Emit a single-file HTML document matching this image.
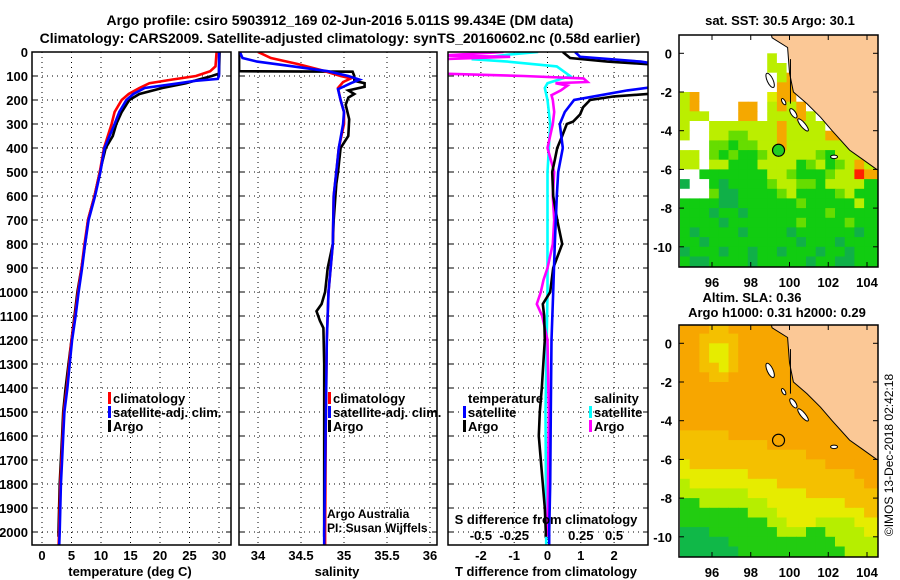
<!DOCTYPE html>
<html><head><meta charset="utf-8">
<style>
html,body{margin:0;padding:0;background:#fff;}
svg{display:block;font-family:"Liberation Sans",sans-serif;}
.b{font-weight:bold;font-size:13px;}
</style></head>
<body>
<svg id="fig" width="900" height="580" viewBox="0 0 900 580" xmlns="http://www.w3.org/2000/svg">
<defs>
<clipPath id="c1"><rect x="32" y="52" width="199" height="493"/></clipPath>
<clipPath id="c2"><rect x="239" y="52" width="198" height="493"/></clipPath>
<clipPath id="c3"><rect x="448" y="52" width="200" height="493"/></clipPath>
<clipPath id="m1"><rect x="679" y="35" width="199" height="232"/></clipPath>
<clipPath id="m2"><rect x="679" y="325" width="199" height="232"/></clipPath>
</defs>
<text x="340" y="25" text-anchor="middle" class="b" style="font-size:14px">Argo profile: csiro 5903912_169 02-Jun-2016 5.011S 99.434E (DM data)</text>
<text x="340" y="43" text-anchor="middle" class="b" style="font-size:14px">Climatology: CARS2009. Satellite-adjusted climatology: synTS_20160602.nc (0.58d earlier)</text>
<text x="780" y="25" text-anchor="middle" class="b">sat. SST: 30.5 Argo: 30.1</text>
<text x="752" y="302" text-anchor="middle" class="b">Altim. SLA: 0.36</text>
<text x="777" y="317" text-anchor="middle" class="b">Argo h1000: 0.31 h2000: 0.29</text>
<text transform="translate(893,455) rotate(-90)" text-anchor="middle" style="font-size:12px">©IMOS 13-Dec-2018 02:42:18</text>
<g id="g"></g>
</svg>
<script>
// ---------- profile data ----------
const tClimDepth=[0,60,80,100,115,130,150,175,200,250,300,400,500,600,700,800,900,1000,1100,1200,1300,1400,1500,1600,1700,1800,1900,2000,2070];
const tClimVal=[29.6,29.4,28.5,26.1,22,18.2,16.5,14.7,13.5,12.3,11.8,10.5,9.8,8.9,7.8,7.2,6.7,6.1,5.6,5.0,4.6,4.2,3.7,3.5,3.3,3.1,3.0,2.9,2.8];
const tSatDepth=[0,100,112,120,130,150,175,200,250,300,400,500,600,700,800,900,1000,1100,1200,1300,1400,1500,1600,1700,1800,1900,2000,2070];
const tSatVal=[30.0,30.0,29.8,26,23.3,17.4,15.5,14.3,13.1,12.3,10.6,9.9,9.0,7.9,7.3,6.8,6.2,5.7,5.1,4.7,4.3,3.8,3.6,3.4,3.2,3.1,3.0,2.9];
const tArgoDepth=[0,90,100,115,130,150,175,200,250,300,350,400,500,600,700,800,900,1000,1100,1200,1300,1400,1500,1600,1700,1800,1900,2000,2020];
const tArgoVal=[30.1,30.0,28.8,26.5,24.4,20.4,16.5,14.8,13.5,12.6,12.0,10.8,9.8,8.9,7.8,7.3,6.7,6.0,5.5,5.0,4.5,4.0,3.6,3.4,3.2,3.0,2.9,2.8,2.8];
const sClimDepth=[0,25,50,75,100,110,125,150,200,250,300,400,500,600,800,1000,1200,1500,2000,2070];
const sClimVal=[34.0,34.15,34.46,34.73,34.96,35.08,34.99,34.93,34.96,35.0,35.0,34.94,34.91,34.88,34.87,34.82,34.8,34.79,34.78,34.78];
const sSatDepth=[0,25,40,60,80,100,115,130,155,200,250,300,400,500,600,800,1000,1200,1500,2000,2070];
const sSatVal=[33.79,33.82,33.99,34.41,34.81,35.05,35.18,35.08,34.93,34.96,35.0,34.99,34.94,34.91,34.88,34.87,34.82,34.8,34.79,34.77,34.77];
const sArgoDepth=[0,80,82,100,120,130,145,160,175,190,220,280,350,400,500,550,700,800,900,1000,1050,1080,1120,1150,1300,1500,2000,2020];
const sArgoVal=[33.78,33.78,35.1,35.12,35.12,35.24,35.24,35.05,35.12,35.05,35.02,35.06,35.05,34.96,34.93,34.91,34.88,34.87,34.81,34.78,34.74,34.68,34.72,34.76,34.77,34.77,34.77,34.77];
const dTSatDepth=[0,20,40,55,140,160,180,200,250,300,400,500,600,800,1000,1200,1500,1800,2000,2070];
const dTSatVal=[0.83,0.98,2.8,3.5,3.5,2.4,1.6,0.8,0.52,0.37,0.46,0.32,0.28,0.22,0.17,0.12,0.1,0.08,0.05,0.05];
const dTArgoDepth=[0,25,40,55,170,185,200,230,260,290,300,350,400,450,500,600,700,800,900,1000,1050,1100,1200,1400,1500,1600,1700,1800,1900,2000,2020];
const dTArgoVal=[0.46,0.68,1.8,3.5,3.5,2.0,1.28,1.07,0.98,0.77,0.58,0.44,0.29,0.22,0.14,0.17,0.29,0.44,0.17,0.08,-0.14,-0.1,-0.08,-0.17,-0.23,-0.26,-0.2,-0.14,-0.08,-0.05,-0.05];
const dSSatDepth=[0,10,30,40,60,100,130,150,200,300,500,700,1000,1500,2000,2070];
const dSSatVal=[-0.07,-0.28,-0.57,-0.3,0.07,0.17,0,-0.02,0.0,0.02,0,0,0,-0.015,-0.01,-0.01];
const dSArgoDepth=[0,15,20,30,90,100,110,125,130,140,160,180,200,250,300,400,500,600,700,800,900,950,1000,1050,1100,1200,1500,2000,2020];
const dSArgoVal=[-0.33,-0.8,-0.28,-0.8,-0.8,-0.18,0.27,0.3,0.06,0.15,0.1,0.03,0.04,0.05,0.04,0.0,0.05,0.04,0.05,0.04,0,-0.03,-0.05,-0.08,-0.04,0,0.01,0.0,0.0];
const depthTicks=[0,100,200,300,400,500,600,700,800,900,1000,1100,1200,1300,1400,1500,1600,1700,1800,1900,2000];
const tTicks=[0,5,10,15,20,25,30];
const sTicks=[34,34.5,35,35.5,36];
const dTTicks=[-2,-1,0,1,2];
const dSTicks=[-0.5,-0.25,0,0.25,0.5];
// ---------- map data ----------
const mapLats=[0,-2,-4,-6,-8,-10];
const mapLons=[96,98,100,102,104];
const argoLon=99.434, argoLat=-5.011;
const sstGrid=[
"....................",
"....................",
".........y..........",
".........yy.........",
"..........yo........",
"..........oo........",
"yo.......Yoo........",
"yo....oo.yoyo.......",
"yyy...oo.yyyoy......",
"y..yyyyyyyoyyyy.....",
"y..yyllyyyoyyyyoo...",
"...llgllyyoyyyyyyyg.",
"yy.lglgglyyyyylgyyyy",
"yy.yygggyyyyglyglyoy",
"..gggggggyylggglyyro",
"G..gGgggglyyllgyyyyg",
"...lGGgggglygggglygg",
"ggggGGgggggglgggggyg",
"gggGggGgggggggglgggg",
"ggggGggggggglgggglgg",
"gGggggGggggGggggggGg",
"ggGgggggggggGgggGggg",
"GgggGggGggGgggGggGgg",
"gGGggggGgggggGggGGgg"];
const slaGrid=[
"oooaaooooooooooooooo",
"ooaaaaoooooooooooooo",
"ooayyaoooooooooooooo",
"ooayyaoooooooooooooo",
"ooaayaoooooooooooooo",
"oooaaooooooooooooooo",
"oooooooooooooooooooo",
"oooooooooooooooooooo",
"oooooooooooooooooooo",
"oooooooooooooooooooo",
"oooooooooooooooooooo",
"aaaaaooooooooooooooo",
"aaaaaaaaaooooooooooo",
"aaaaaaaaaaaaaooooooo",
"yaaaaaaaaaaaaaaooooo",
"yyyyyyyaaaaaaaaaaaoo",
"lyyyyyyyyyaaaaaaaaao",
"lllllllyyyyyyaaaaaaa",
"gglllllllyyyyyyyyaaa",
"ggggggglllyyyyyyyyya",
"gggggggggllyyyllllyy",
"GGGggggggglllgglllly",
"GGGGGggggggggggglllll",
"GGGGGGggggggggggglll"];
const coastLon=[99.0,99.1,99.9,100.0,100.2,100.9,101.6,102.2,103.1,103.8,104.5,104.8,104.8];
const coastLat=[1.2,0.8,0.3,-1.0,-2.0,-2.6,-3.3,-4.0,-5.0,-5.5,-6.0,-6.1,1.2];

const NS="http://www.w3.org/2000/svg";
const G=document.getElementById('g');
function mk(tag,attrs,parent){const e=document.createElementNS(NS,tag);for(const k in attrs)e.setAttribute(k,attrs[k]);(parent||G).appendChild(e);return e;}
function txt(x,y,s,anchor,cls,parent){const e=mk('text',{x:x,y:y,'text-anchor':anchor||'middle','class':cls||'b'},parent);e.textContent=s;return e;}

const Y0=52, PB=545;
const yD=d=>Y0+d*0.24;
const xT=t=>42+t*5.9;
const xS=s=>258+(s-34)*86;
const xDT=t=>547.5+t*33.3;
const xDS=s=>547.5+s*133.2;

function panelGrid(x0,x1,xs){
  depthTicks.forEach(d=>{
    const l=mk('line',{x1:x0,x2:x1,y1:yD(d),y2:yD(d),stroke:'#000','stroke-width':1,'stroke-dasharray':'1,4'});
    
    
    mk('line',{x1:x0,x2:x0+5,y1:yD(d),y2:yD(d),stroke:'#000'});
    mk('line',{x1:x1-5,x2:x1,y1:yD(d),y2:yD(d),stroke:'#000'});
  });
  xs.forEach(x=>{
    const l=mk('line',{x1:x,x2:x,y1:Y0,y2:PB,stroke:'#000','stroke-width':1,'stroke-dasharray':'1,4'});
    
    
  });
}
function series(depths,vals,xf,color,clip,name){
  const pts=depths.map((d,i)=>xf(vals[i]).toFixed(1)+','+yD(d).toFixed(1)).join(' ');
  const p=mk('polyline',{points:pts,fill:'none',stroke:color,'stroke-width':2.6,'clip-path':'url(#'+clip+')'});
  
  
}
function frame(x0,x1,name){
  const r=mk('rect',{x:x0,y:Y0,width:x1-x0,height:PB-Y0,fill:'none',stroke:'#000','stroke-width':1.5});
  
  
}
function legendItem(x,y,color,label){
  mk('rect',{x:x-5,y:y-11,width:3,height:12,fill:color});
  const t=txt(x,y,label,'start');
  
  
}

// Panel 1
panelGrid(32,231,tTicks.map(xT));
depthTicks.forEach(d=>{const t=txt(28,yD(d)+5,String(d),'end');});
tTicks.forEach(v=>{const t=txt(xT(v),560,String(v));});
series(tArgoDepth,tArgoVal,xT,'#000','c1','argo-temperature-line');
series(tClimDepth,tClimVal,xT,'#f00','c1','climatology-temperature-line');
series(tSatDepth,tSatVal,xT,'#00f','c1','satellite-temperature-line');
frame(32,231,'temperature-panel');
legendItem(113,403,'#f00','climatology');
legendItem(113,417,'#00f','satellite-adj. clim.');
legendItem(113,431,'#000','Argo');
const a1=txt(130,576,'temperature (deg C)');

// Panel 2
panelGrid(239,437,sTicks.map(xS));
sTicks.forEach(v=>{const t=txt(xS(v),560,String(v));});
series(sArgoDepth,sArgoVal,xS,'#000','c2','argo-salinity-line');
series(sClimDepth,sClimVal,xS,'#f00','c2','climatology-salinity-line');
series(sSatDepth,sSatVal,xS,'#00f','c2','satellite-salinity-line');
frame(239,437,'salinity-panel');
legendItem(333,403,'#f00','climatology');
legendItem(333,417,'#00f','satellite-adj. clim.');
legendItem(333,431,'#000','Argo');
const pi1=txt(327,518,'Argo Australia','start','');pi1.setAttribute('style','font-size:12px');
const pi2=txt(327,532,'PI: Susan Wijffels','start','');pi2.setAttribute('style','font-size:12px');
const a2=txt(337,576,'salinity');

// Panel 3
panelGrid(448,648,dTTicks.map(xDT));
dTTicks.forEach(v=>{const t=txt(xDT(v),560,String(v));});
dSTicks.forEach(v=>{const t=txt(xDS(v),540,String(v));});
series(dSSatDepth,dSSatVal,xDS,'#0ff','c3','satellite-salinity-diff-line');
series(dSArgoDepth,dSArgoVal,xDS,'#f0f','c3','argo-salinity-diff-line');
series(dTArgoDepth,dTArgoVal,xDT,'#000','c3','argo-temperature-diff-line');
series(dTSatDepth,dTSatVal,xDT,'#00f','c3','satellite-temperature-diff-line');
frame(448,648,'difference-panel');
const lt=txt(468,403,'temperature','start');
legendItem(468,417,'#00f','satellite');
legendItem(468,431,'#000','Argo');
const ls=txt(594,403,'salinity','start');
legendItem(594,417,'#0ff','satellite');
legendItem(594,431,'#f0f','Argo');
const sdt=txt(546,524,'S difference from climatology');
const a3=txt(546,576,'T difference from climatology');

// Maps
const sstCol={g:'#11cc11',G:'#10b048',l:'#66dd00',y:'#bbee00',Y:'#ddee00',o:'#f5a800',r:'#ff2000','.':'#ffffff'};
const slaCol={o:'#f7a600',a:'#f4c000',y:'#e6ec00',l:'#b6ee00',g:'#22cc11',G:'#10b848'};
function drawMap(top,bottom,lat0y,grid,cols,clip,name,filledMarker){
  const lx=l=>712+(l-96)*19.375;
  const ly=la=>lat0y-la*19.35;
  const gg=mk('g',{'clip-path':'url(#'+clip+')'});
  
  
  grid.forEach((row,j)=>{
    for(let i=0;i<21;i++){
      const ch=row[Math.min(i,row.length-1)];
      const la=1.0-0.5*j, lo=94.35+0.5*i;
      const c=mk('rect',{x:lx(lo).toFixed(1),y:ly(la).toFixed(1),width:10.2,height:10.2,fill:cols[ch]},gg);
      
      
    }
  });
  const land=mk('polygon',{points:coastLon.map((l,i)=>lx(l).toFixed(1)+','+ly(coastLat[i]).toFixed(1)).join(' '),fill:'#fbc896',stroke:'#000','stroke-width':1},gg);
  
  
  const isl=[[99.0,-1.4,0.15,0.4,-25],[99.7,-2.5,0.08,0.18,-30],[100.2,-3.1,0.12,0.28,-35],[100.7,-3.7,0.12,0.4,-40],[102.3,-5.35,0.18,0.09,0]];
  isl.forEach(s=>{const e=mk('ellipse',{cx:lx(s[0]),cy:ly(s[1]),rx:s[2]*19.4,ry:s[3]*19.4,fill:'#fff',stroke:'#000','stroke-width':1,transform:'rotate('+s[4]+' '+lx(s[0])+' '+ly(s[1])+')'},gg);});
  mk('line',{x1:lx(100.05),y1:ly(-0.3),x2:lx(100.05),y2:ly(-2.6),stroke:'#000','stroke-width':1},gg);
  const fr=mk('rect',{x:679,y:top,width:199,height:bottom-top,fill:'none',stroke:'#000','stroke-width':1.5});
  
  
  mapLats.forEach(la=>{const t=txt(672,ly(la)+5,String(la),'end');
    mk('line',{x1:679,x2:684,y1:ly(la),y2:ly(la),stroke:'#000'});mk('line',{x1:873,x2:878,y1:ly(la),y2:ly(la),stroke:'#000'});});
  mapLons.forEach(lo=>{const t=txt(lx(lo),bottom+20,String(lo));
    mk('line',{x1:lx(lo),x2:lx(lo),y1:top,y2:top+5,stroke:'#000'});mk('line',{x1:lx(lo),x2:lx(lo),y1:bottom-5,y2:bottom,stroke:'#000'});});
  const m=mk('circle',{cx:lx(argoLon),cy:ly(argoLat),r:6,fill:filledMarker?'#22cc22':'none',stroke:'#000','stroke-width':1.2});
  
  
}
drawMap(35,267,53.3,sstGrid,sstCol,'m1','sst-map',true);
drawMap(325,557,343.3,slaGrid,slaCol,'m2','sla-map',false);
</script>
</body></html>
